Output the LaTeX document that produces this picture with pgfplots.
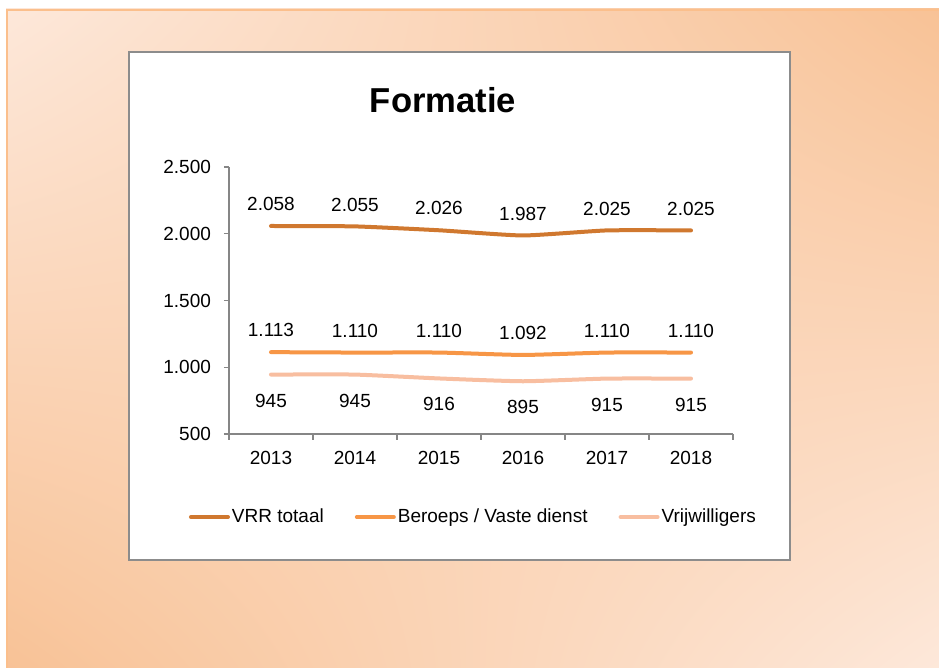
\documentclass[border=0pt]{standalone}
\usepackage{fontspec}
\setmainfont{Liberation Sans}
\usepackage{pgfplots}
\pgfplotsset{compat=1.18}
\usetikzlibrary{shadings}

\definecolor{vrrtot}{HTML}{D0782F}
\definecolor{beroeps}{HTML}{F79646}
\definecolor{vrijw}{HTML}{F8BEA0}
\definecolor{axisgray}{HTML}{868686}
\definecolor{framegray}{HTML}{8C8C8C}
\definecolor{peachlight}{HTML}{FDE8DA}
\definecolor{peachdark}{HTML}{F8C296}
\definecolor{bgedge}{HTML}{FBBF8C}

\begin{document}
\begin{tikzpicture}
% slide background and white chart frame, in pixel units of the reference
\begin{scope}[x=0.5pt,y=0.5pt]
\useasboundingbox (0,0) rectangle (939,668);
\fill[white] (0,0) rectangle (939,668);
\shade[upper left=peachlight, upper right=peachdark,
       lower left=peachdark, lower right=peachlight] (6,0) rectangle (939,659);
\draw[bgedge, line width=1pt] (7,0) -- (7,658) -- (939,658);
\draw[fill=white, draw=framegray, line width=0.6pt] (129,108) rectangle (790,616);
\node[font=\fontsize{17.3}{20}\selectfont\bfseries] at (443,568) {Formatie};
\end{scope}

\begin{axis}[
    at={(114.5pt,117pt)}, anchor=south west,
    scale only axis, width=252pt, height=133.5pt,
    xmin=-0.5, xmax=5.5, ymin=500, ymax=2500,
    axis x line*=bottom, axis y line*=left,
    axis line style={draw=axisgray, line width=0.7pt, -},
    xtick={0,1,2,3,4,5},
    xticklabels={2013,2014,2015,2016,2017,2018},
    minor xtick={-0.5,0.5,...,5.5},
    every major x tick/.append style={draw=none},
    ytick={500,1000,1500,2000,2500},
    yticklabels={500,1.000,1.500,2.000,2.500},
    tick align=outside, major tick length=2.5pt, minor tick length=3pt,
    tick style={draw=axisgray, line width=0.7pt},
    tick label style={font=\fontsize{9.5}{11}\selectfont, text=black},
    yticklabel style={xshift=-3pt},
    xticklabel style={yshift=-2.5pt},
    clip=false,
    legend columns=3,
    legend style={at={(0.485,-0.311)}, anchor=center, draw=none, fill=none,
                  font=\fontsize{9.5}{11}\selectfont, nodes={inner sep=1pt},
                  /tikz/every even column/.append style={column sep=14.5pt}},
    legend image code/.code={\draw[#1] (0pt,0pt) -- (18.5pt,0pt);},
    every axis plot/.append style={line width=2pt, line cap=round, no markers,
                                   smooth, tension=0.3},
    nodes near coords={\pgfmathprintnumber[assume math mode=true,1000 sep={.}]{\pgfplotspointmeta}},
    every node near coord/.append style={font=\fontsize{9.5}{11}\selectfont,
                                         text=black, inner sep=0pt},
  ]
\addplot[vrrtot, nodes near coords align={above},
         nodes near coords style={yshift=6.6pt}] coordinates {
  (0,2058) (1,2055) (2,2026) (3,1987) (4,2025) (5,2025)};
\addlegendentry{VRR totaal}
\addplot[beroeps, nodes near coords align={above},
         nodes near coords style={yshift=6.6pt}] coordinates {
  (0,1113) (1,1110) (2,1110) (3,1092) (4,1110) (5,1110)};
\addlegendentry{Beroeps / Vaste dienst}
\addplot[vrijw, nodes near coords align={below},
         nodes near coords style={yshift=-8.6pt}] coordinates {
  (0,945) (1,945) (2,916) (3,895) (4,915) (5,915)};
\addlegendentry{Vrijwilligers}
\end{axis}
\end{tikzpicture}
\end{document}
